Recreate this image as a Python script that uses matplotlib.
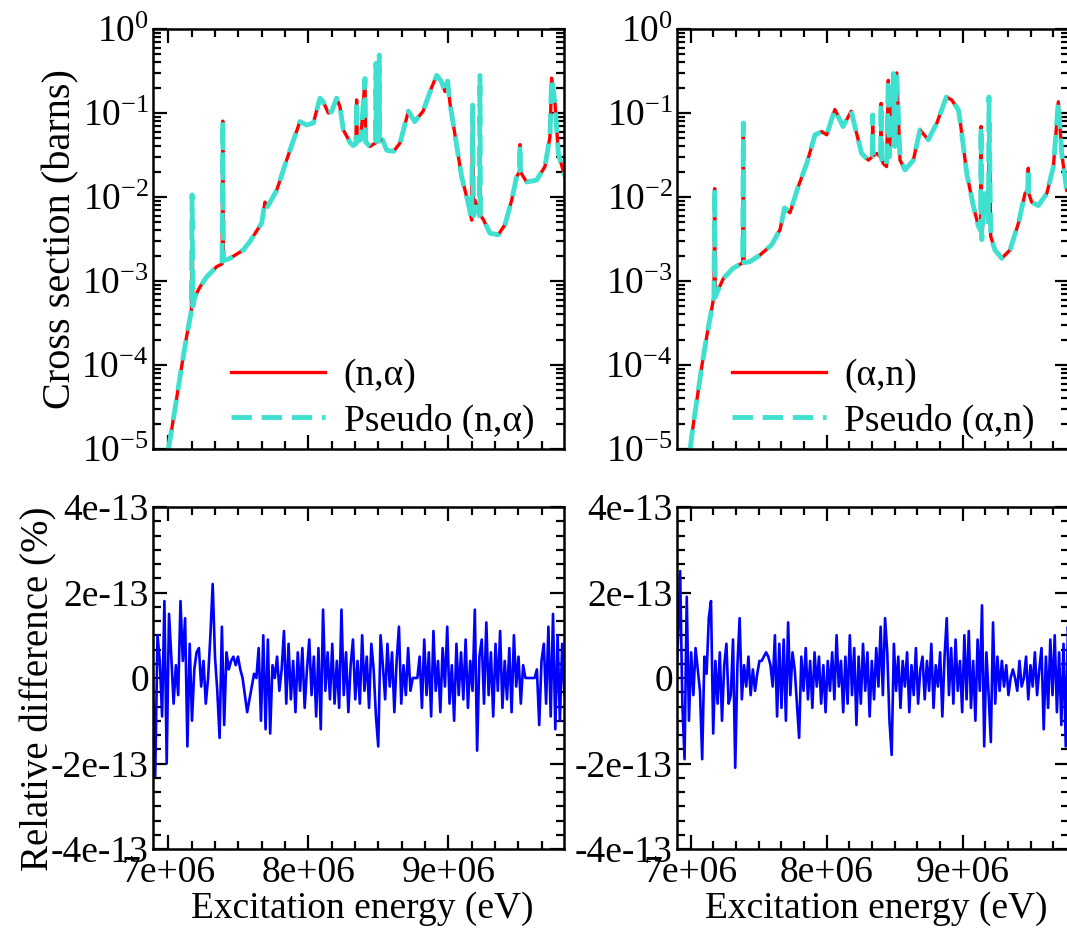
import numpy as np
import matplotlib
matplotlib.use("Agg")
import matplotlib.pyplot as plt
from matplotlib.ticker import MultipleLocator, FuncFormatter, LogLocator, FixedLocator

plt.rcParams['font.family'] = ['Liberation Serif', 'DejaVu Serif']
plt.rcParams['mathtext.fontset'] = 'custom'
plt.rcParams['mathtext.rm'] = 'Liberation Serif'
plt.rcParams['mathtext.default'] = 'regular'
plt.rcParams['font.size'] = 27

# ---- (n,alpha) cross section, energies in MeV, sigma in barns
e_na = [7.000, 7.024, 7.095, 7.131, 7.160, 7.165, 7.170, 7.175, 7.190, 7.226,
        7.274, 7.345, 7.384, 7.389, 7.394, 7.440, 7.536, 7.583, 7.667, 7.690,
        7.710, 7.774, 7.845, 7.940, 7.988, 8.036, 8.083, 8.107, 8.143, 8.167,
        8.202, 8.226, 8.250, 8.300, 8.320, 8.340, 8.345, 8.350, 8.375, 8.405,
        8.410, 8.440, 8.480, 8.483, 8.486, 8.504, 8.507, 8.510, 8.530, 8.560,
        8.610, 8.655, 8.715, 8.760, 8.820, 8.880, 8.917, 8.952, 8.976, 8.995,
        9.012, 9.050, 9.095, 9.143, 9.167, 9.174, 9.180, 9.190, 9.222, 9.226,
        9.230, 9.250, 9.298, 9.357, 9.405, 9.452, 9.488, 9.508, 9.512, 9.516,
        9.536, 9.560, 9.631, 9.690, 9.726, 9.738, 9.762, 9.786, 9.830]
xs_na = [9.8e-6, 1.7e-5, 9.5e-5, 2.2e-4, 4.0e-4, 4.5e-4, 1.06e-2, 5.0e-4, 6.5e-4, 8.5e-4,
         1.12e-3, 1.48e-3, 1.6e-3, 8.0e-2, 1.75e-3, 1.86e-3, 2.34e-3, 2.95e-3, 4.9e-3, 8.7e-3,
         7.7e-3, 1.2e-2, 2.75e-2, 7.9e-2, 7.2e-2, 7.6e-2, 0.150, 0.136, 0.100, 0.104,
         0.150, 0.119, 0.063, 0.044, 0.041, 0.043, 0.143, 0.046, 0.048, 0.257,
         0.045, 0.040, 0.044, 0.390, 0.046, 0.046, 0.490, 0.047, 0.048, 0.036,
         0.035, 0.044, 0.105, 0.079, 0.105, 0.200, 0.280, 0.236, 0.180, 0.240,
         0.130, 0.052, 0.0174, 8.4e-3, 5.3e-3, 0.124, 6.0e-3, 9.2e-3, 6.0e-3, 0.280,
         6.0e-3, 5.4e-3, 3.7e-3, 3.55e-3, 4.7e-3, 9.1e-3, 0.0174, 0.020, 0.042, 0.020,
         0.0174, 0.0151, 0.0159, 0.023, 0.052, 0.260, 0.130, 0.033, 0.018]

# ---- (alpha,n) cross section
e_an = [6.995, 7.019, 7.081, 7.118, 7.166, 7.171, 7.176, 7.181, 7.190, 7.240,
        7.310, 7.375, 7.382, 7.387, 7.392, 7.436, 7.510, 7.595, 7.657, 7.690,
        7.730, 7.790, 7.853, 7.914, 7.963, 8.000, 8.060, 8.120, 8.180, 8.220,
        8.257, 8.306, 8.334, 8.338, 8.342, 8.368, 8.396, 8.400, 8.404, 8.416,
        8.440, 8.453, 8.460, 8.490, 8.500, 8.515, 8.539, 8.576, 8.637, 8.686,
        8.747, 8.810, 8.880, 8.919, 8.968, 8.980, 9.030, 9.080, 9.115, 9.131,
        9.135, 9.140, 9.164, 9.189, 9.193, 9.206, 9.237, 9.287, 9.348, 9.410,
        9.458, 9.478, 9.482, 9.486, 9.507, 9.556, 9.618, 9.667, 9.703, 9.728,
        9.765]
xs_an = [9.8e-6, 1.95e-5, 9.5e-5, 2.2e-4, 5.9e-4, 6.2e-4, 1.26e-2, 6.5e-4, 7.1e-4, 1.07e-3,
         1.41e-3, 1.62e-3, 1.63e-3, 0.076, 1.65e-3, 1.70e-3, 2.04e-3, 2.69e-3, 4.1e-3, 7.4e-3,
         6.5e-3, 0.0132, 0.025, 0.055, 0.060, 0.055, 0.110, 0.069, 0.105, 0.057,
         0.033, 0.0275, 0.030, 0.095, 0.031, 0.033, 0.030, 0.130, 0.028, 0.025,
         0.023, 0.245, 0.030, 0.295, 0.040, 0.300, 0.0275, 0.021, 0.0275, 0.063,
         0.048, 0.076, 0.155, 0.143, 0.109, 0.083, 0.019, 7.6e-3, 4.5e-3, 4.0e-3,
         0.069, 3.1e-3, 0.011, 5.0e-3, 0.155, 3.4e-3, 2.34e-3, 1.86e-3, 2.34e-3, 4.9e-3,
         0.011, 0.012, 0.022, 0.011, 8.7e-3, 7.9e-3, 0.011, 0.023, 0.136, 0.033,
         0.012]

# ---- relative differences, units of 1e-14 %, on a uniform energy grid
diff_na = [0, -23, 10, 4, -9, 18, -20, 15, 5, -6,
           3, -4, 18, 4, 14, -16, 8, -10, 2, 6,
           7, -2, 4, -6, 0, 10, 22, 5, -3, -14,
           12, -11, 6, 2, 4, 5, 3, 5, 2, 0,
           -4, -8, -5, -2, 1, 0, 7, -10, 10, -12,
           9, -13, 3, 0, 5, -3, 2, 11, -6, 8,
           -5, 4, -8, 6, -3, 7, -7, 2, 9, -4,
           5, -9, 7, -12, 16, -3, 6, -5, 8, -6,
           4, -7, 16, -4, 6, -8, 3, 9, -5, 4,
           -6, 10, -3, 5, -7, 8, 2, -9, -16, 10,
           3, -5, 8, -2, 6, -8, 4, 12, -6, 3,
           -4, 7, -3, 0, 0, 0, 5, -7, 9, -4,
           6, -9, 11, -3, 4, -8, 7, -2, 12, -6,
           3, -10, 8, -4, 6, -5, 9, -7, 4, -3,
           16, -17, 5, 9, -6, 13, -4, 6, -9, 8,
           -3, 11, -7, 4, -5, 7, -8, 10, -2, 5,
           -6, 3, 0, 0, 0, 0, 0, 2, -11, 4,
           8, -6, 12, -9, 15, -12, 10, -10, 8, -4]
diff_an = [0, 8, 25, -6, -19, 19, -10, 6, -4, 7,
           2, -3, -19, 5, 1, 14, 18, -13, 4, -6,
           6, -10, 3, 8, -6, -4, 9, -21, 3, 14,
           -5, 3, -2, 5, -4, 2, -3, 1, 4, 4,
           5, 6, 5, 3, -2, 10, -9, 8, -7, 9,
           -10, 13, -4, 6, 2, -6, -14, 5, -3, 7,
           -5, 4, -7, 6, -2, 5, -6, 3, -8, 4,
           -3, 6, -5, 10, -2, 4, -8, 5, -6, 10,
           -4, 7, -11, 5, -6, 8, -3, 6, -9, 4,
           -5, 7, -2, 12, -4, 14, 6, -10, -18, 8,
           -3, 5, -7, 4, -2, 6, -8, 3, -4, 7,
           -6, 2, 5, -5, 4, -3, 8, -7, 3, -2,
           6, -9, 5, 14, -4, 7, -6, 9, -3, 4,
           -8, 10, -5, 11, -7, 4, -10, 9, -3, 17,
           -16, 6, -4, -15, 13, -6, 5, -3, 4, -2,
           3, -4, 0, 2, 0, -3, 4, -2, 0, 5,
           -5, 3, -2, 6, -4, 2, 7, -12, 5, -7,
           9, -4, 10, -8, 6, -11, 8, -16, 12, -10]
diff_na_range = (6.89e6, 9.83e6)
diff_an_range = (6.89e6, 9.79e6)

labels_na = ['(n,α)', 'Pseudo (n,α)']
labels_an = ['(α,n)', 'Pseudo (α,n)']

RED = '#ff0000'
CYAN = '#40e0d0'
BLUE = '#0000ff'

W, H = 1067, 936
fig = plt.figure(figsize=(W / 100, H / 100), dpi=100)


def box(l, t, r, b):
    return [l / W, 1 - b / H, (r - l) / W, (b - t) / H]


ax_tl = fig.add_axes(box(153, 29, 564, 449))
ax_tr = fig.add_axes(box(677, 29, 1069, 449))
ax_bl = fig.add_axes(box(153, 507, 564, 849))
ax_br = fig.add_axes(box(677, 507, 1069, 849))


def style(ax):
    for s in ax.spines.values():
        s.set_linewidth(1.8)
    ax.tick_params(which='both', direction='in', top=True, right=True, width=1.6)
    ax.tick_params(which='major', length=10, pad=5)
    ax.tick_params(which='minor', length=6)
    ax.tick_params(axis='y', which='major', pad=3)
    ax.xaxis.set_major_locator(MultipleLocator(1e6))
    ax.xaxis.set_minor_locator(MultipleLocator(1e6 / 6))


def sci(v, pos):
    if abs(v) < 1e-20:
        return '0'
    return f'{v:.0e}'


for ax, e, xs, labels, xlim in [(ax_tl, e_na, xs_na, labels_na, (6.8907e6, 9.8264e6)),
                                (ax_tr, e_an, xs_an, labels_an, (6.8993e6, 9.7816e6))]:
    ex = np.array(e) * 1e6
    ax.plot(ex, xs, color=RED, lw=2.4, label=labels[0])
    ax.plot(ex, xs, color=CYAN, lw=3.5, dashes=(4.2, 2.0), label=labels[1])
    ax.set_yscale('log')
    ax.set_ylim(1e-5, 1)
    ax.set_xlim(*xlim)
    style(ax)
    ax.yaxis.set_major_locator(FixedLocator([1e-5, 1e-4, 1e-3, 1e-2, 1e-1, 1]))
    ax.yaxis.set_minor_locator(LogLocator(base=10, subs=np.arange(2, 10), numticks=20))
    ax.tick_params(axis='x', which='both', labelbottom=False)
    ax.legend(loc='upper left', bbox_to_anchor=(0.19, 0.215) if ax is ax_tl else (0.14, 0.215),
              frameon=False, handlelength=2.5, handletextpad=0.5, labelspacing=0.27,
              borderpad=0, borderaxespad=0)

for ax, d, rng, xlim in [(ax_bl, diff_na, diff_na_range, (6.8907e6, 9.8264e6)),
                         (ax_br, diff_an, diff_an_range, (6.8993e6, 9.7816e6))]:
    ex = np.linspace(rng[0], rng[1], len(d))
    ax.plot(ex, np.array(d) * 1e-14, color=BLUE, lw=1.9)
    ax.set_xlim(*xlim)
    ax.set_ylim(-4e-13, 4e-13)
    style(ax)
    ax.yaxis.set_major_locator(MultipleLocator(2e-13))
    ax.yaxis.set_minor_locator(MultipleLocator(2e-13 / 6))
    ax.yaxis.set_major_formatter(FuncFormatter(sci))
    ax.xaxis.set_major_formatter(FuncFormatter(sci))
    ax.set_xlabel('Excitation energy (eV)')
    ax.xaxis.set_label_coords(0.509, -0.124)

ax_tl.set_ylabel('Cross section (barns)', fontsize=29)
ax_tl.yaxis.set_label_coords(-0.178, 0.5)
ax_bl.set_ylabel('Relative difference (%)', fontsize=28)
ax_bl.yaxis.set_label_coords(-0.232, 0.47)

fig.savefig('out.png', dpi=100)
